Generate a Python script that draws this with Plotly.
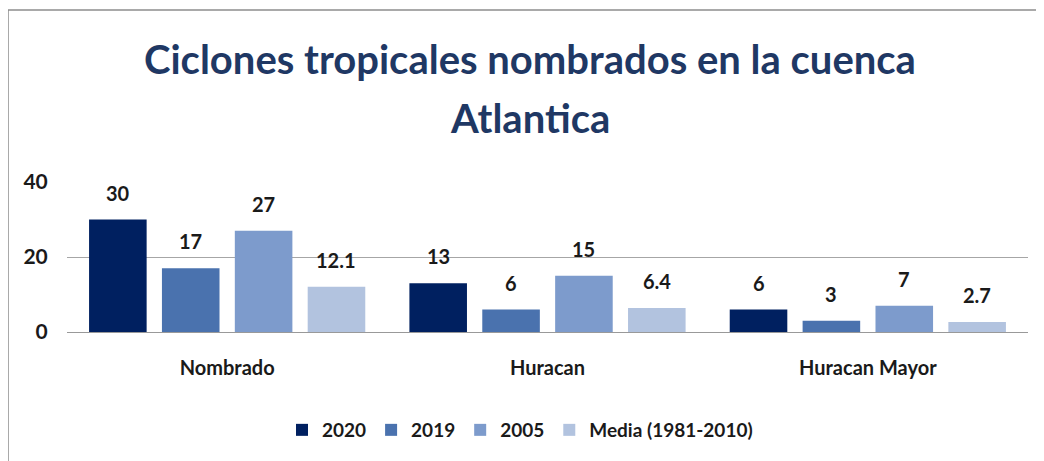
import plotly.graph_objects as go

# ---- data ----
categories = ["Nombrado", "Huracan", "Huracan Mayor"]
series_names = ["2020", "2019", "2005", "Media (1981-2010)"]
values_2020 = [30, 13, 6]
values_2019 = [17, 6, 3]
values_2005 = [27, 15, 7]
values_media = [12.1, 6.4, 2.7]
y_tick_values = [0, 20, 40]
title_line1 = "Ciclones tropicales nombrados en la cuenca"
title_line2 = "Atlantica"

# ---- style ----
series_values = [values_2020, values_2019, values_2005, values_media]
colors = ["#002060", "#4a72ae", "#7d9bcc", "#b2c3df"]
BODY = 8  # default page margin around the figure
PAGE_W, PAGE_H = 1044, 461
W, H = PAGE_W - BODY, PAGE_H - BODY
# plot area in page pixels
PX_L, PX_R, PX_T, PX_B = 67, 1028, 182, 332
ML = PX_L - BODY
MR = W - (PX_R - BODY)
MT = PX_T - BODY
MB = H - (PX_B - BODY)
BARGAP = 0.09
BARGROUPGAP = 0.21
FONT = "Lato, 'Open Sans', sans-serif"
TEXT_COLOR = "#1a1a1a"
TITLE_COLOR = "#1f3864"

plot_w = PX_R - PX_L
plot_h = PX_B - PX_T


def px_x(p):
    return (p - PX_L) / plot_w


def px_y(p):
    return (PX_B - p) / plot_h


fig = go.Figure()
for name, vals, col in zip(series_names, series_values, colors):
    fig.add_trace(go.Bar(
        name=name, x=categories, y=vals, marker=dict(color=col, line=dict(width=0)),
        hoverinfo="skip",
    ))

# data labels above bars
n = len(series_values)
slot = (1 - BARGAP) / n
annotations = []
for k, vals in enumerate(series_values):
    for j, v in enumerate(vals):
        annotations.append(dict(
            x=j - (1 - BARGAP) / 2 + (k + 0.5) * slot, y=v, xref="x", yref="y",
            text=f"{v:g}", showarrow=False, yanchor="bottom", yshift=13,
            font=dict(family=FONT, size=20, color=TEXT_COLOR, weight="bold"),
        ))

# title (two lines)
annotations.append(dict(
    x=px_x(530), y=px_y(59), xref="paper", yref="paper", text=title_line1,
    showarrow=False, xanchor="center", yanchor="middle",
    font=dict(family=FONT, size=40, color=TITLE_COLOR, weight="bold"),
))
annotations.append(dict(
    x=px_x(530), y=px_y(118), xref="paper", yref="paper", text=title_line2,
    showarrow=False, xanchor="center", yanchor="middle",
    font=dict(family=FONT, size=40, color=TITLE_COLOR, weight="bold"),
))

shapes = [
    dict(type="line", xref="paper", yref="paper",
         x0=px_x(8), x1=px_x(PAGE_W + 5), y0=px_y(10), y1=px_y(10),
         line=dict(color="#8c8c8c", width=1.5)),
    dict(type="line", xref="paper", yref="paper",
         x0=px_x(8), x1=px_x(8), y0=px_y(10), y1=px_y(PAGE_H + 5),
         line=dict(color="#8c8c8c", width=1.5)),
]

fig.update_layout(
    width=W, height=H,
    margin=dict(l=ML, r=MR, t=MT, b=MB, pad=0),
    paper_bgcolor="white", plot_bgcolor="white",
    barmode="group", bargap=BARGAP, bargroupgap=BARGROUPGAP,
    font=dict(family=FONT, color=TEXT_COLOR),
    showlegend=True,
    legend=dict(
        orientation="h", x=px_x(520), xanchor="center", y=px_y(430), yanchor="middle",
        font=dict(family=FONT, size=19, color=TEXT_COLOR, weight="bold"),
        itemwidth=30, traceorder="normal", bgcolor="rgba(0,0,0,0)",
    ),
    annotations=annotations,
    shapes=shapes,
)
fig.update_xaxes(
    type="category", showgrid=False, showline=False, zeroline=False,
    ticks="outside", ticklen=18, tickcolor="rgba(0,0,0,0)",
    tickfont=dict(family=FONT, size=20, color=TEXT_COLOR, weight="bold"),
)
fig.update_yaxes(
    range=[0, 40], tickvals=y_tick_values, showgrid=True, gridcolor="#a6a6a6", gridwidth=1,
    zeroline=True, zerolinecolor="#999999", zerolinewidth=1, showline=False,
    ticks="outside", ticklen=14, tickcolor="rgba(0,0,0,0)",
    tickfont=dict(family=FONT, size=21, color=TEXT_COLOR, weight="bold"),
)

fig.write_html("out.html")
